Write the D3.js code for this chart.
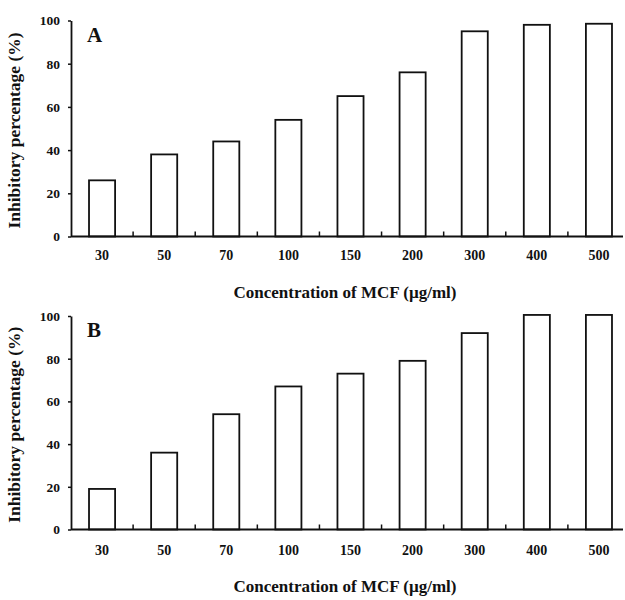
<!DOCTYPE html>
<html>
<head>
<meta charset="utf-8">
<script src="https://cdn.jsdelivr.net/npm/d3@7"></script>
<style>
  body { margin: 0; background: #fff; }
  text { font-family: "Liberation Serif", "DejaVu Serif", serif; font-weight: bold; fill: #111; }
</style>
</head>
<body>
<script>
//Data
    const concentrations = ["30", "50", "70", "100", "150", "200", "300", "400", "500"];
    const inhibitionA = [26, 38, 44, 54, 65, 76, 95, 98, 98.5];
    const inhibitionB = [19, 36, 54, 67, 73, 79, 92, 100.5, 100.5];
    const yTicks = [0, 20, 40, 60, 80, 100];
    const panelLabels = ["A", "B"];
    const xTitle = "Concentration of MCF (\u00b5g/ml)";
    const yTitle = "Inhibitory percentage (%)";

//Consts
    const width = 625;
    const height = 600;
    const serif = "'Liberation Serif', 'DejaVu Serif', serif";

    const panels = [
        {label: panelLabels[0], values: inhibitionA, top: 20.5, bottom: 236.5, labelPad: 14, titleY: 298},
        {label: panelLabels[1], values: inhibitionB, top: 316, bottom: 529.5, labelPad: 16, titleY: 592}
    ];

    const svg = d3.select("body")
                  .append("svg")
                  .attr("width", width)
                  .attr("height", height);

//Scales - band for x, shared across panels
    const xScale = d3.scaleBand()
                     .domain(concentrations)
                     .range([71, 630])
                     .paddingInner(0.58)
                     .paddingOuter(0.29);

    const step = xScale.step();

    panels.forEach(p => {
        const g = svg.append("g");

        const yScale = d3.scaleLinear()
                         .domain([0, 100])
                         .range([p.bottom, p.top]);

        //Bars
        g.selectAll("rect")
            .data(p.values)
            .enter()
            .append("rect")
            .attr("x", (d, i) => xScale(concentrations[i]))
            .attr("y", d => yScale(d))
            .attr("width", xScale.bandwidth())
            .attr("height", d => yScale(0) - yScale(d))
            .attr("fill", "#fff")
            .attr("stroke", "#111")
            .attr("stroke-width", 1.8);

        //Y axis
        const leftAxis = d3.axisLeft(yScale)
                           .tickValues(yTicks)
                           .tickSize(3)
                           .tickPadding(8)
                           .tickSizeOuter(0);

        const yAxis = g.append("g")
            .attr("transform", "translate(71,0)")
            .call(leftAxis);
        yAxis.select(".domain").attr("stroke", "#111").attr("stroke-width", 1.8);
        yAxis.selectAll(".tick line").attr("stroke", "#111").attr("stroke-width", 1.5);
        yAxis.selectAll(".tick text")
             .style("font-family", serif)
             .style("font-weight", "bold")
             .style("font-size", "13.5px")
             .attr("fill", "#111");

        //X axis - labels under bars
        const bottomAxis = d3.axisBottom(xScale)
                             .tickSize(0)
                             .tickPadding(p.labelPad);

        const xAxis = g.append("g")
            .attr("transform", "translate(0," + p.bottom + ")")
            .call(bottomAxis);
        xAxis.select(".domain").remove();
        xAxis.selectAll(".tick text")
             .style("font-family", serif)
             .style("font-weight", "bold")
             .style("font-size", "14px")
             .attr("fill", "#111");

        //baseline
        g.append("line")
            .attr("x1", 71)
            .attr("x2", 623)
            .attr("y1", p.bottom)
            .attr("y2", p.bottom)
            .attr("stroke", "#111")
            .attr("stroke-width", 2);

        //small upward ticks between bars
        g.selectAll(".sep")
            .data(concentrations.slice(1))
            .enter()
            .append("line")
            .attr("x1", d => xScale(d) + xScale.bandwidth() / 2 - step / 2)
            .attr("x2", d => xScale(d) + xScale.bandwidth() / 2 - step / 2)
            .attr("y1", p.bottom)
            .attr("y2", p.bottom - 5)
            .attr("stroke", "#111")
            .attr("stroke-width", 1.5);

        //panel letter
        g.append("text")
            .attr("x", 87)
            .attr("y", p.top + 21)
            .style("font-size", "21px")
            .text(p.label);

        //axis titles
        g.append("text")
            .attr("x", 345)
            .attr("y", p.titleY)
            .attr("text-anchor", "middle")
            .style("font-size", "17px")
            .text(xTitle);

        g.append("text")
            .attr("transform", "translate(20," + ((p.top + p.bottom) / 2 + 2) + ") rotate(-90)")
            .attr("text-anchor", "middle")
            .style("font-size", "17.5px")
            .text(yTitle);
    });
</script>
</body>
</html>
